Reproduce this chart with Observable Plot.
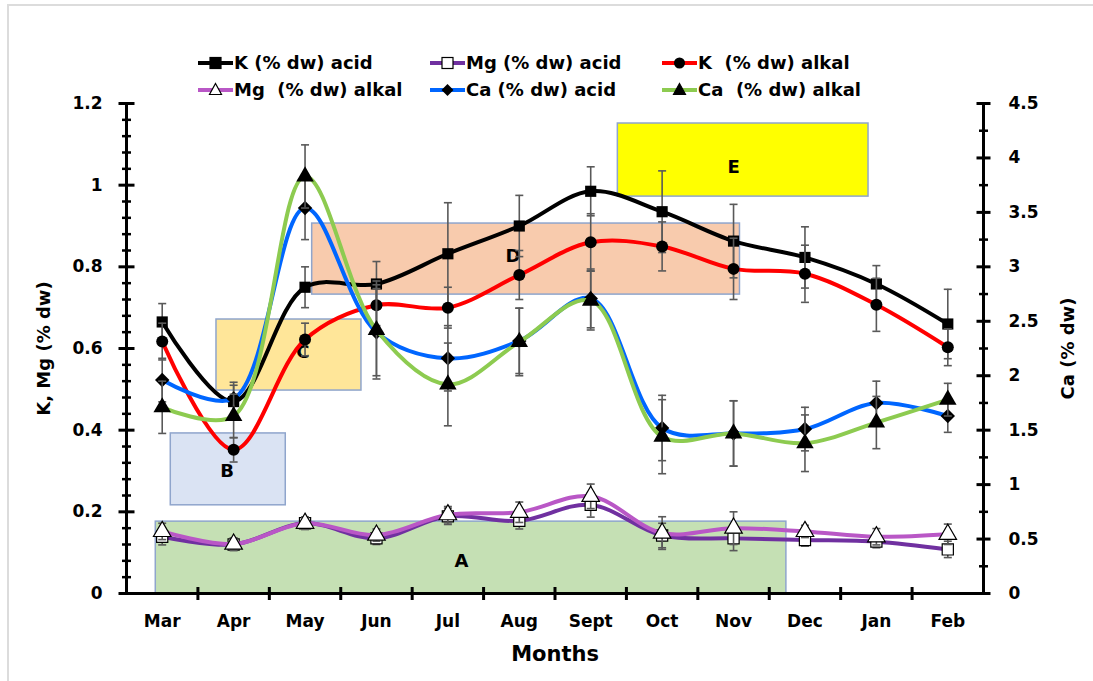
<!DOCTYPE html>
<html><head><meta charset="utf-8">
<script src="https://cdn.jsdelivr.net/npm/d3@7"></script>
<script src="https://cdn.jsdelivr.net/npm/@observablehq/plot@0.6"></script>
<style>
body{margin:0;background:#fff;font-family:"DejaVu Sans",sans-serif;}
#wrap{position:relative;width:1093px;height:681px;overflow:hidden;background:#fff;}
#frame{position:absolute;left:7px;top:4px;right:-5px;bottom:-5px;border-left:2px solid #dcdcdc;border-top:2px solid #dcdcdc;pointer-events:none;}
#legend{position:relative;height:100px;}
.item{position:absolute;display:flex;align-items:center;font-weight:bold;font-size:18px;white-space:pre;color:#000;line-height:20px;}
.item svg{margin-right:1px;}
</style></head><body>
<div id="wrap"><div id="legend"></div><div id="chart"></div><div id="frame"></div></div>
<script>
// ---- data ----
const months = ["Mar","Apr","May","Jun","Jul","Aug","Sept","Oct","Nov","Dec","Jan","Feb"];

const kAcid     = [0.665, 0.47, 0.75, 0.758, 0.832, 0.90, 0.985, 0.935, 0.863, 0.823, 0.758, 0.66];
const kAcidErr  = [0.045, 0.04, 0.05, 0.055, 0.125, 0.075, 0.06, 0.10, 0.09, 0.075, 0.045, 0.085];
const mgAcid    = [0.139, 0.12, 0.172, 0.135, 0.189, 0.178, 0.217, 0.142, 0.135, 0.131, 0.127, 0.108];
const mgAcidErr = [0.02, 0.015, 0.015, 0.015, 0.02, 0.02, 0.03, 0.03, 0.03, 0.015, 0.015, 0.02];
const kAlkal    = [0.617, 0.352, 0.622, 0.706, 0.70, 0.78, 0.86, 0.85, 0.795, 0.783, 0.707, 0.603];
const kAlkalErr = [0.045, 0.03, 0.04, 0.05, 0.05, 0.06, 0.07, 0.06, 0.075, 0.07, 0.065, 0.045];
const mgAlkal   = [0.152, 0.121, 0.172, 0.143, 0.193, 0.199, 0.238, 0.148, 0.16, 0.152, 0.139, 0.145];
const mgAlkalErr= [0.02, 0.015, 0.015, 0.015, 0.02, 0.025, 0.03, 0.04, 0.04, 0.015, 0.02, 0.025];
const caAcid    = [1.96, 1.79, 3.54, 2.40, 2.16, 2.32, 2.71, 1.52, 1.47, 1.51, 1.75, 1.63];
const caAcidErr = [0.2, 0.15, 0.29, 0.4, 0.3, 0.3, 0.27, 0.3, 0.3, 0.2, 0.2, 0.15];
const caAlkal   = [1.71, 1.63, 3.83, 2.42, 1.92, 2.31, 2.69, 1.44, 1.47, 1.38, 1.57, 1.78];
const caAlkalErr= [0.24, 0.2, 0.29, 0.45, 0.38, 0.31, 0.27, 0.34, 0.3, 0.26, 0.24, 0.15];

const seriesNames = ["K (% dw) acid","Mg (% dw) acid","K  (% dw) alkal","Mg  (% dw) alkal","Ca (% dw) acid","Ca  (% dw) alkal"];
const seriesColors = ["#000000","#7030A0","#FF0000","#B957C6","#0066FF","#8DCB50"];
const seriesSymbols = ["square","square","circle","triangle","diamond2","triangle"];
const seriesFills = ["#000","#fff","#000","#fff","#000","#000"];
const seriesValues = [kAcid, mgAcid, kAlkal, mgAlkal, caAcid, caAlkal];
const seriesErrors = [kAcidErr, mgAcidErr, kAlkalErr, mgAlkalErr, caAcidErr, caAlkalErr];
const seriesOnRight = [false,false,false,false,true,true];

const leftTicks = [0, 0.2, 0.4, 0.6, 0.8, 1, 1.2];
const rightTicks = [0, 0.5, 1, 1.5, 2, 2.5, 3, 3.5, 4, 4.5];
const caPerK = 3.75; // 4.5 on the right axis lines up with 1.2 on the left

const boxNames = ["A","B","C","D","E"];
const boxFills = ["#C5E0B4","#DAE3F3","#FFE699","#F8CBAD","#FFFF00"];
const boxX1 = [-0.09, 0.12, 0.76, 2.10, 6.38];
const boxX2 = [8.74, 1.73, 2.79, 8.09, 9.89];
const boxY1 = [0, 0.216, 0.497, 0.732, 0.972];
const boxY2 = [0.176, 0.392, 0.671, 0.906, 1.151];
const boxLabelX = [4.19, 0.91, 1.97, 4.91, 8.0];
const boxLabelY = [0.08, 0.30, 0.59, 0.825, 1.043];

// ---- helpers ----
const hTick = {draw(ctx, size){ const r = Math.sqrt(size/Math.PI); ctx.moveTo(-r,0); ctx.lineTo(r,0); }};
const vTick = {draw(ctx, size){ const r = Math.sqrt(size/Math.PI); ctx.moveTo(0,-r); ctx.lineTo(0,r); }};
const symR = {square:6.3, circle:6, triangle:6.5, diamond2:6.5};

// ---- legend ----
const legend = document.getElementById("legend");
const legendSym = {
  square: (f)=>`<rect x="12" y="4.5" width="11" height="11" fill="${f}" stroke="#000" stroke-width="1.2"/>`,
  circle: (f)=>`<circle cx="17.5" cy="10" r="5.5" fill="${f}"/>`,
  triangle: (f)=>`<path d="M17.5,3.5 L23.5,14.5 L11.5,14.5 Z" fill="${f}" stroke="#000" stroke-width="1.2"/>`,
  diamond2: (f)=>`<path d="M17.5,4 L23.5,10 L17.5,16 L11.5,10 Z" fill="${f}"/>`
};
seriesNames.forEach((name, i) => {
  const col = i % 3, row = Math.floor(i / 3);
  const div = document.createElement("div");
  div.className = "item";
  div.style.left = (198 + col * 232) + "px";
  div.style.top = (row === 0 ? 53 : 80) + "px";
  div.innerHTML = `<svg width="35" height="20"><line x1="0" x2="35" y1="10" y2="10" stroke="${seriesColors[i]}" stroke-width="4"/>${legendSym[seriesSymbols[i]](seriesFills[i])}</svg><span>${name}</span>`;
  legend.appendChild(div);
});

// ---- chart ----
const marks = [];
// boxes
const boxes = boxNames.map((n,i)=>({n, x1:boxX1[i], x2:boxX2[i], y1:boxY1[i], y2:boxY2[i], fill:boxFills[i], lx:boxLabelX[i], ly:boxLabelY[i]}));
marks.push(Plot.rect(boxes, {x1:"x1", x2:"x2", y1:"y1", y2:"y2", fill:"fill", stroke:"#8FA5CC", strokeWidth:1.5}));
marks.push(Plot.text(boxes, {x:"lx", y:"ly", text:"n", fontSize:18, fontWeight:"bold", fill:"#000"}));

// axes lines & ticks
marks.push(Plot.ruleY([0], {stroke:"#000", strokeWidth:3}));
marks.push(Plot.ruleX([-0.5, 11.5], {stroke:"#000", strokeWidth:3}));
const leftMinor = d3.range(1, 30).filter(k => k % 5 !== 0).map(k => k * 0.04);
marks.push(Plot.dot(leftTicks, {x:()=>-0.5, y:d=>d, symbol:hTick, r:8, stroke:"#000", strokeWidth:3}));
marks.push(Plot.dot(leftMinor, {x:()=>-0.5, y:d=>d, symbol:hTick, r:4.5, stroke:"#000", strokeWidth:2.5}));
const rightMinor = d3.range(0.25, 4.5, 0.5);
marks.push(Plot.dot(rightTicks, {x:()=>11.5, y:d=>d/caPerK, symbol:hTick, r:7, stroke:"#000", strokeWidth:3}));
marks.push(Plot.dot(rightMinor, {x:()=>11.5, y:d=>d/caPerK, symbol:hTick, r:4.5, stroke:"#000", strokeWidth:2.5}));
marks.push(Plot.dot(d3.range(0.5, 11, 1), {x:d=>d, y:()=>0, symbol:vTick, r:6.5, stroke:"#000", strokeWidth:3}));

marks.push(Plot.axisY(leftTicks, {anchor:"left", tickSize:0, tickPadding:24, fontSize:17, fontWeight:"bold", fill:"#000", label:null, tickFormat:d=>String(d)}));
marks.push(Plot.axisY(rightTicks.map(v=>v/caPerK), {anchor:"right", tickSize:0, tickPadding:25, fontSize:17, fontWeight:"bold", fill:"#000", label:null, tickFormat:d=>String(+(d*caPerK).toFixed(1))}));
marks.push(Plot.axisX(d3.range(12), {anchor:"bottom", tickSize:0, tickPadding:21, fontSize:17, fontWeight:"bold", fill:"#000", label:null, tickFormat:i=>months[i]}));

marks.push(Plot.text(["Months"], {frameAnchor:"bottom", dy:61, text:d=>d, fontSize:21, fontWeight:"bold", fill:"#000", lineAnchor:"middle", textAnchor:"middle"}));
marks.push(Plot.text(["K, Mg (% dw)"], {frameAnchor:"left", dx:-82, rotate:-90, text:d=>d, fontSize:18, fontWeight:"bold", fill:"#000", textAnchor:"middle", lineAnchor:"middle"}));
marks.push(Plot.text(["Ca (% dw)"], {frameAnchor:"right", dx:85, rotate:-90, text:d=>d, fontSize:18, fontWeight:"bold", fill:"#000", textAnchor:"middle", lineAnchor:"middle"}));

// series
seriesNames.forEach((name, s) => {
  const k = seriesOnRight[s] ? caPerK : 1;
  const rows = months.map((m, i) => ({i, y: seriesValues[s][i] / k, e: seriesErrors[s][i] / k}));
  marks.push(Plot.ruleX(rows, {x:"i", y1:d=>d.y-d.e, y2:d=>d.y+d.e, stroke:"#595959", strokeWidth:1.6}));
  marks.push(Plot.dot(rows, {x:"i", y:d=>d.y-d.e, symbol:hTick, r:4, stroke:"#595959", strokeWidth:1.6}));
  marks.push(Plot.dot(rows, {x:"i", y:d=>d.y+d.e, symbol:hTick, r:4, stroke:"#595959", strokeWidth:1.6}));
  marks.push(Plot.line(rows, {x:"i", y:"y", curve:"catmull-rom", stroke:seriesColors[s], strokeWidth:4}));
  marks.push(Plot.dot(rows, {x:"i", y:"y", symbol:seriesSymbols[s], r:symR[seriesSymbols[s]], fill:seriesFills[s], stroke:"#000", strokeWidth:seriesFills[s]==="#fff"?1.2:0}));
});

const chart = Plot.plot({
  width:1093, height:581,
  marginLeft:126, marginRight:110, marginTop:3, marginBottom:88,
  x:{domain:[-0.5, 11.5]},
  y:{domain:[0, 1.2]},
  style:{overflow:"visible", background:"transparent", fontFamily:"DejaVu Sans, sans-serif", color:"#000"},
  marks
});
document.getElementById("chart").appendChild(chart);
</script>
</body></html>
